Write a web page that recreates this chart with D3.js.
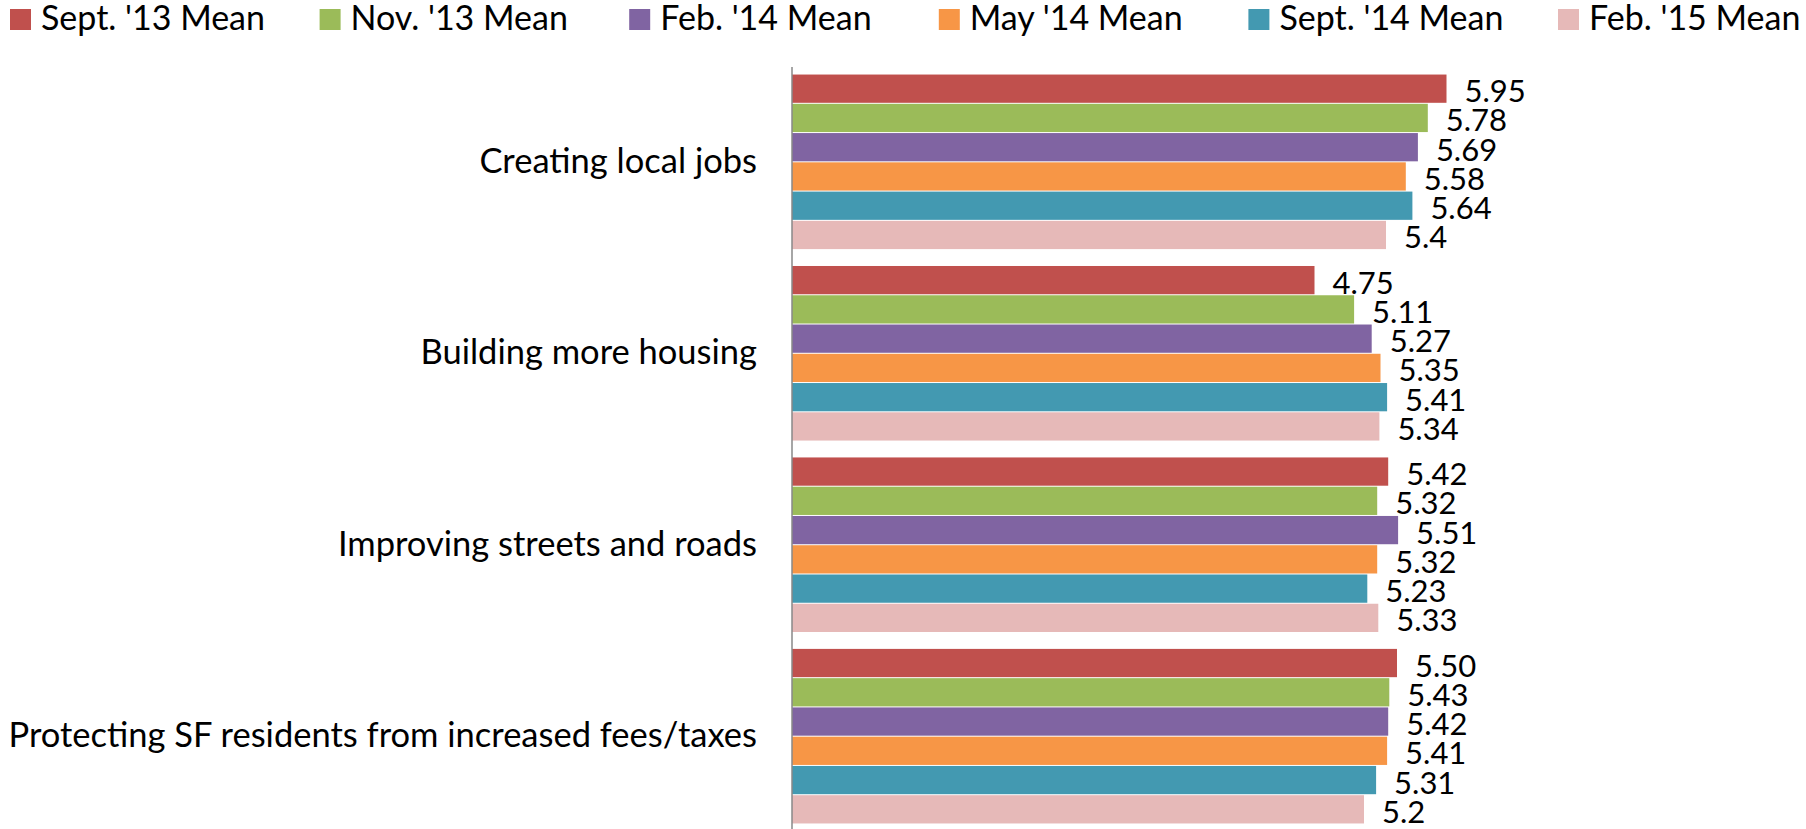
<!DOCTYPE html>
<html>
<head>
<meta charset="utf-8">
<script src="https://cdn.jsdelivr.net/npm/d3@7"></script>
<style>
  body { margin: 0; background: #fff; }
  text { font-family: Lato, "Open Sans", sans-serif; fill: #000; }
</style>
</head>
<body>
<svg id="chart"></svg>
<script>
const categories = [
    'Creating local jobs',
    'Building more housing',
    'Improving streets and roads',
    'Protecting SF residents from increased fees/taxes'
];
const seriesNames = ["Sept. '13 Mean", "Nov. '13 Mean", "Feb. '14 Mean", "May '14 Mean", "Sept. '14 Mean", "Feb. '15 Mean"];
const colors = ['#c0504d', '#9bbb59', '#8064a2', '#f79646', '#4399b1', '#e6b9b8'];

// values per category, one per series
const values = [
    [5.95, 5.78, 5.69, 5.58, 5.64, 5.4],
    [4.75, 5.11, 5.27, 5.35, 5.41, 5.34],
    [5.42, 5.32, 5.51, 5.32, 5.23, 5.33],
    [5.50, 5.43, 5.42, 5.41, 5.31, 5.2]
];
const valueLabels = [
    ['5.95', '5.78', '5.69', '5.58', '5.64', '5.4'],
    ['4.75', '5.11', '5.27', '5.35', '5.41', '5.34'],
    ['5.42', '5.32', '5.51', '5.32', '5.23', '5.33'],
    ['5.50', '5.43', '5.42', '5.41', '5.31', '5.2']
];

const width = 1806;
const height = 829;
const axisX = 792;

const svg = d3.select('#chart')
    .attr('width', width)
    .attr('height', height);

const x = d3.scaleLinear().domain([0, 6]).range([axisX, axisX + 660]);
const y = d3.scaleBand().domain(categories).range([66, 832]).paddingInner(0.083).paddingOuter(0.042);
const ySub = d3.scaleBand().domain(seriesNames).range([0, y.bandwidth()]);

// category labels
svg.selectAll('.cat')
    .data(categories)
    .enter().append('text')
    .attr('class', 'cat')
    .attr('x', 757)
    .attr('y', d => y(d) + y.bandwidth() / 2 + 11)
    .attr('text-anchor', 'end')
    .style('font-size', '34.5px')
    .text(d => d);

const groups = svg.selectAll('.group')
    .data(categories)
    .enter().append('g')
    .attr('class', 'group')
    .attr('transform', d => `translate(0,${y(d)})`);

groups.selectAll('rect')
    .data((d, i) => values[i].map((v, j) => ({ v, s: seriesNames[j], c: colors[j] })))
    .enter().append('rect')
    .attr('x', x(0))
    .attr('y', d => ySub(d.s) + 0.5)
    .attr('width', d => x(d.v) - x(0))
    .attr('height', ySub.bandwidth() - 1)
    .attr('fill', d => d.c);

groups.selectAll('.val')
    .data((d, i) => valueLabels[i].map((t, j) => ({ t, v: values[i][j], s: seriesNames[j] })))
    .enter().append('text')
    .attr('class', 'val')
    .attr('x', d => x(d.v) + 18)
    .attr('y', d => ySub(d.s) + ySub.bandwidth() / 2 + 13.5)
    .style('font-size', '31px')
    .text(d => d.t);

// vertical axis line
svg.append('line')
    .attr('x1', axisX).attr('x2', axisX)
    .attr('y1', 67).attr('y2', height)
    .attr('stroke', '#888')
    .attr('stroke-width', 1.5);

// legend
const legend = d3.scaleBand().domain(seriesNames).range([10, 10 + 6 * 309.6]);
const leg = svg.selectAll('.leg')
    .data(seriesNames)
    .enter().append('g')
    .attr('class', 'leg')
    .attr('transform', d => `translate(${legend(d)},0)`);
leg.append('rect')
    .attr('x', 0).attr('y', 9)
    .attr('width', 21).attr('height', 21)
    .attr('fill', (d, i) => colors[i]);
leg.append('text')
    .attr('x', 31)
    .attr('y', 30)
    .style('font-size', '34px')
    .text(d => d);
</script>
</body>
</html>
